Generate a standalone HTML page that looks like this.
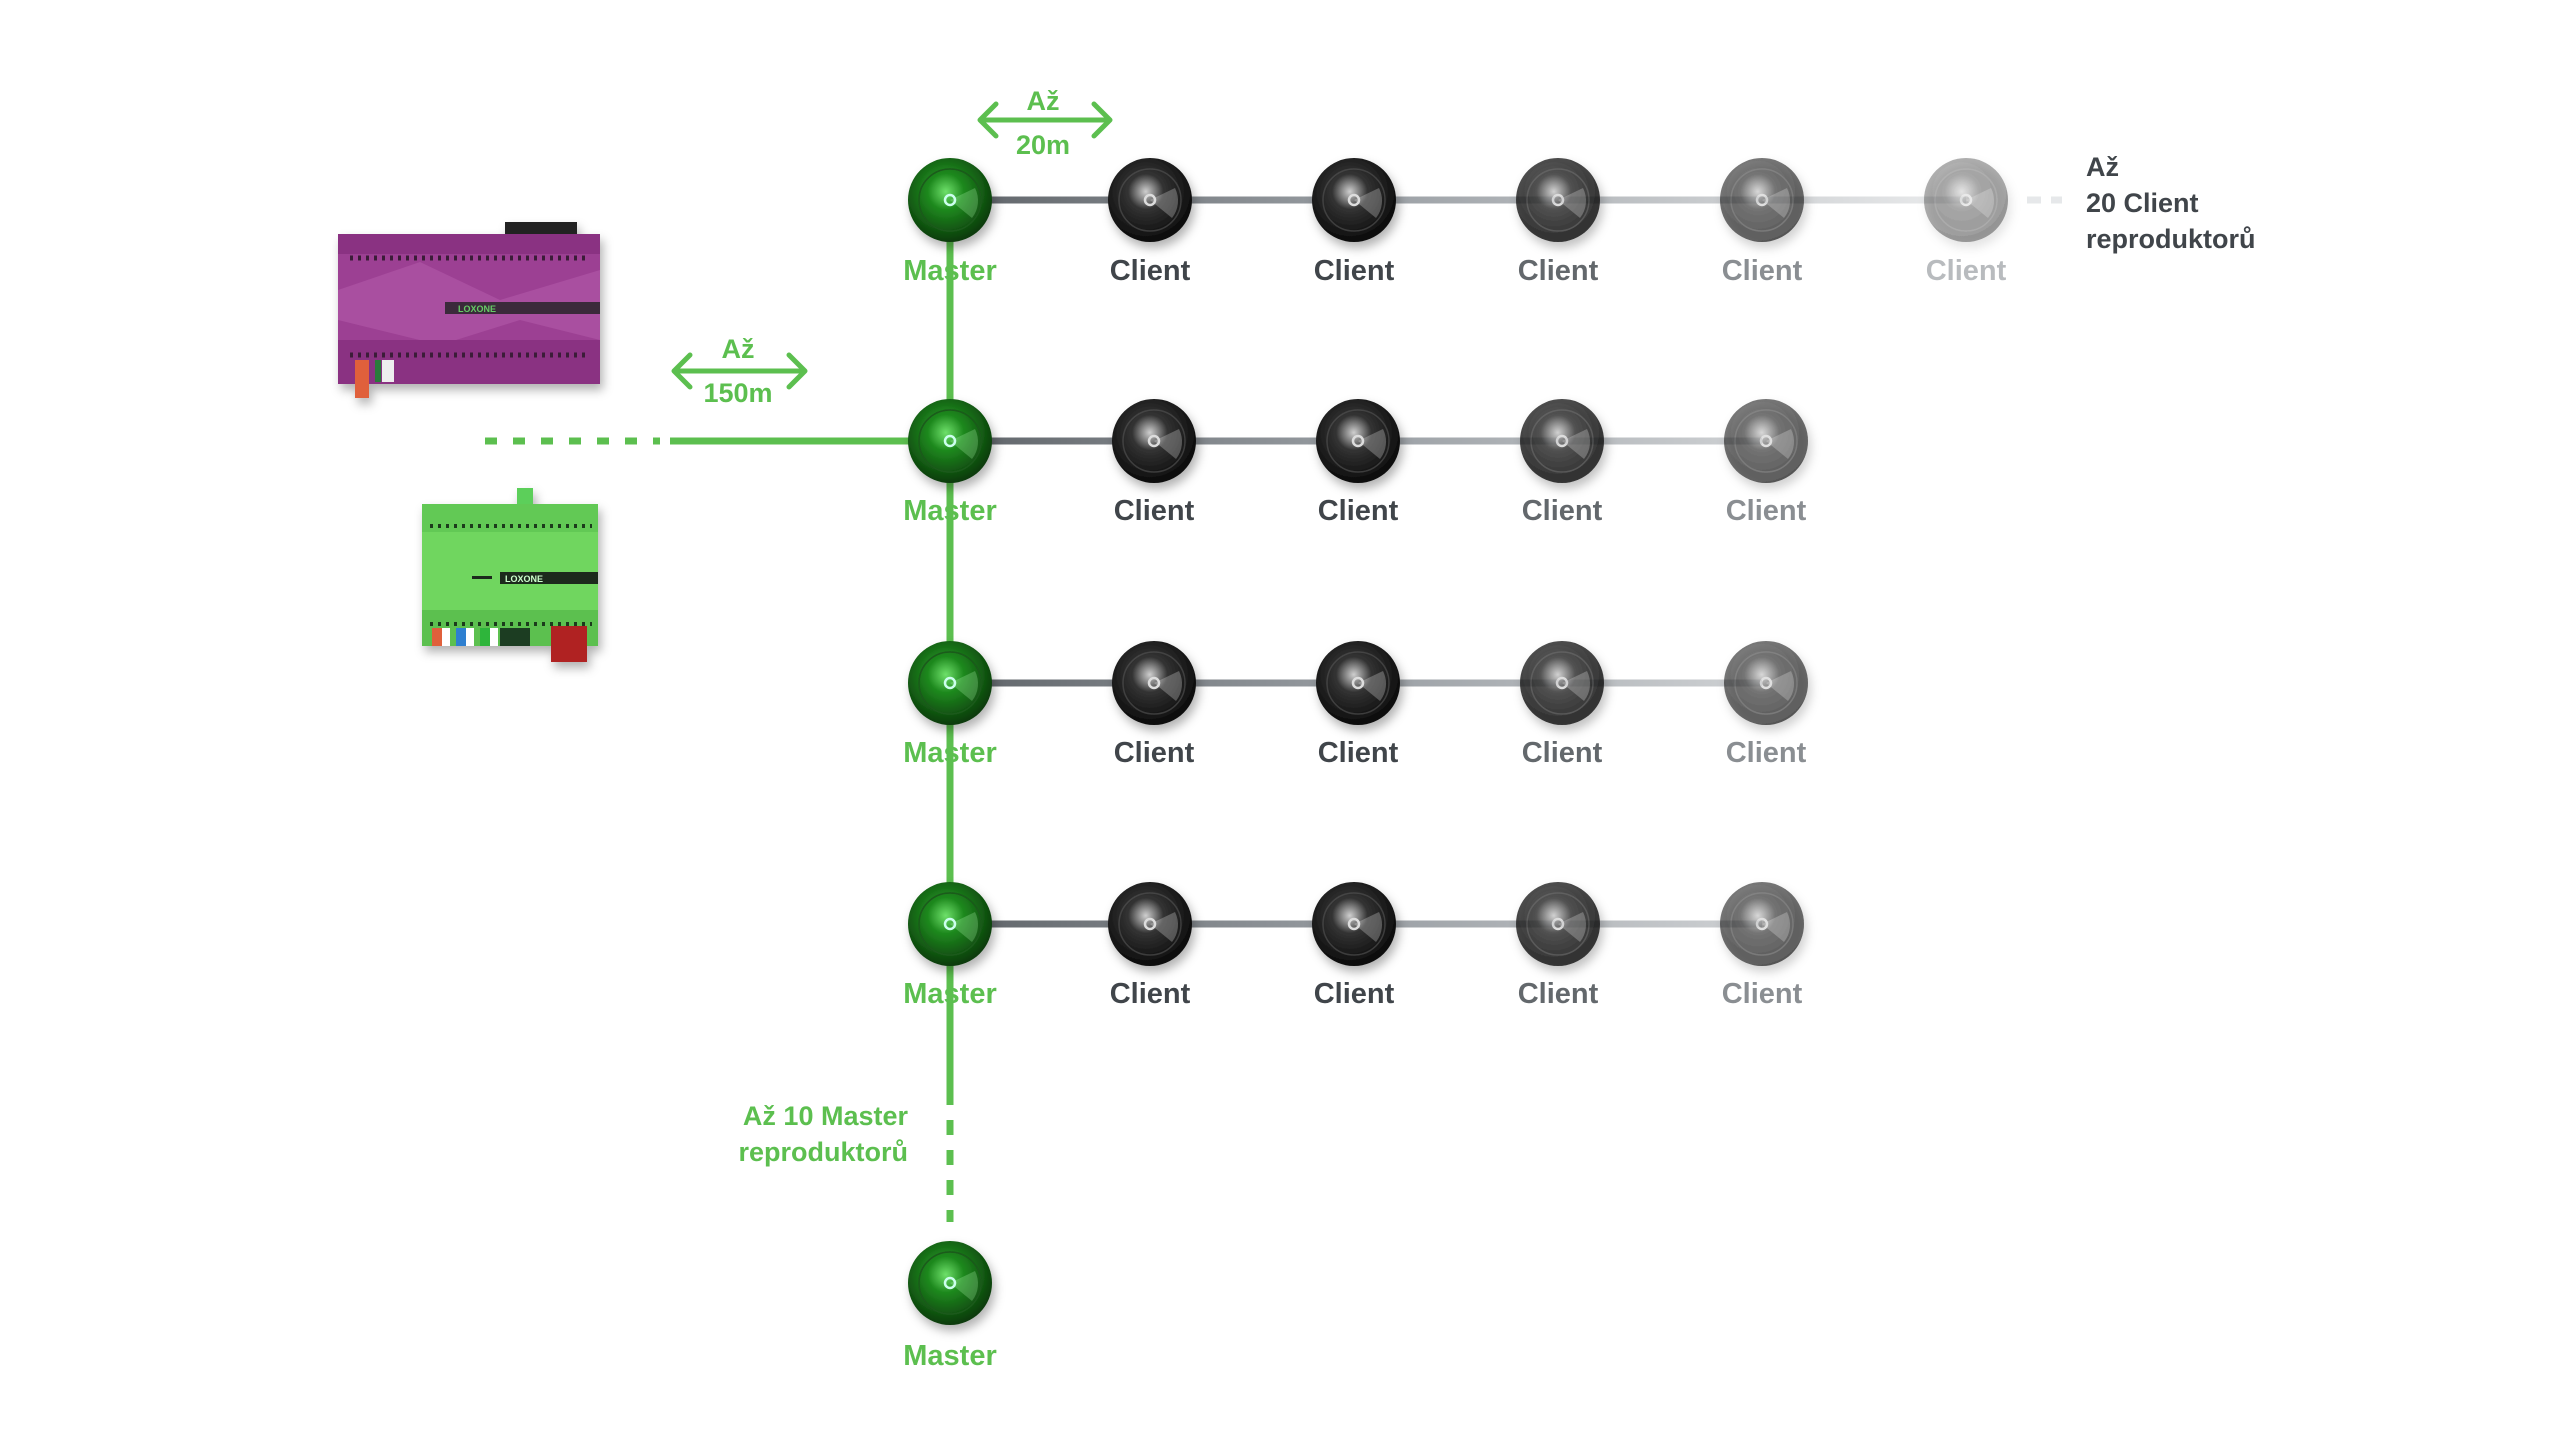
<!DOCTYPE html>
<html><head><meta charset="utf-8"><style>
html,body{margin:0;padding:0;background:#fff;}
svg{display:block}
text{font-family:"Liberation Sans",sans-serif;font-weight:bold;}
</style></head><body>
<svg width="2560" height="1440" viewBox="0 0 2560 1440" xmlns="http://www.w3.org/2000/svg">
<defs>
  <radialGradient id="gG" cx="0.45" cy="0.4" r="0.6">
    <stop offset="0" stop-color="#6ee06a"/><stop offset="0.35" stop-color="#1f8a1f"/><stop offset="1" stop-color="#0a3a0a"/>
  </radialGradient>
  <radialGradient id="gD" cx="0.45" cy="0.4" r="0.6">
    <stop offset="0" stop-color="#cfcfcf"/><stop offset="0.35" stop-color="#333"/><stop offset="1" stop-color="#0a0a0a"/>
  </radialGradient>
  <linearGradient id="fade" x1="950" x2="2000" gradientUnits="userSpaceOnUse">
    <stop offset="0" stop-color="#5f6469"/><stop offset="0.4" stop-color="#9a9fa4"/><stop offset="1" stop-color="#f0f1f2"/>
  </linearGradient>
  <filter id="sh" x="-30%" y="-30%" width="160%" height="160%"><feDropShadow dx="3" dy="6" stdDeviation="5" flood-opacity="0.3"/></filter>
  <g id="spk">
    <circle r="42" fill="url(#gD)"/>
    <circle r="31" fill="none" stroke="#555" stroke-width="1.5" opacity="0.6"/>
    <path d="M0,0 L25,-12 A28,28 0 0 1 22,18 Z" fill="#fff" opacity="0.25"/>
    <circle r="5" fill="none" stroke="#ddd" stroke-width="2.5"/>
  </g>
  <g id="mspk">
    <circle r="42" fill="url(#gG)"/>
    <circle r="31" fill="none" stroke="#1a5a1a" stroke-width="1.5"/>
    <path d="M0,0 L25,-12 A28,28 0 0 1 22,18 Z" fill="#bfb" opacity="0.25"/>
    <circle r="5" fill="none" stroke="#cfe" stroke-width="2.5"/>
  </g>
</defs>

<line x1="950" y1="200" x2="950" y2="1105" stroke="#5cbf4f" stroke-width="7"/>
<line x1="950" y1="1120" x2="950" y2="1222" stroke="#5cbf4f" stroke-width="7" stroke-dasharray="15,15"/>
<line x1="670" y1="441" x2="950" y2="441" stroke="#5cbf4f" stroke-width="7"/>
<line x1="485" y1="441" x2="660" y2="441" stroke="#5cbf4f" stroke-width="7" stroke-dasharray="12,16"/>

<g stroke="url(#fade)" stroke-width="7">
<line x1="950" y1="200" x2="1966" y2="200"/>
<line x1="950" y1="441" x2="1762" y2="441"/>
<line x1="950" y1="683" x2="1762" y2="683"/>
<line x1="950" y1="924" x2="1762" y2="924"/>
</g>
<line x1="2027" y1="200" x2="2062" y2="200" stroke="#e6e8ea" stroke-width="7" stroke-dasharray="14,10"/>

<g stroke="#5cbf4f" stroke-width="5" fill="none" stroke-linecap="round" stroke-linejoin="round">
<line x1="982" y1="120" x2="1108" y2="120"/><polyline points="996,104 980,120 996,136"/><polyline points="1094,104 1110,120 1094,136"/>
<line x1="676" y1="371" x2="803" y2="371"/><polyline points="690,355 674,371 690,387"/><polyline points="789,355 805,371 789,387"/>
</g>
<g fill="#5cbf4f" font-size="27" text-anchor="middle">
<text x="1043" y="110">Až</text><text x="1043" y="154">20m</text>
<text x="738" y="358">Až</text><text x="738" y="402">150m</text>
</g>

<g filter="url(#sh)">
<use href="#mspk" x="950" y="200"/><use href="#mspk" x="950" y="441"/><use href="#mspk" x="950" y="683"/><use href="#mspk" x="950" y="924"/><use href="#mspk" x="950" y="1283"/>
<use href="#spk" x="1150" y="200"/><use href="#spk" x="1354" y="200"/><use href="#spk" x="1558" y="200" opacity="0.8"/><use href="#spk" x="1762" y="200" opacity="0.6"/><use href="#spk" x="1966" y="200" opacity="0.35"/>
<use href="#spk" x="1154" y="441"/><use href="#spk" x="1358" y="441"/><use href="#spk" x="1562" y="441" opacity="0.8"/><use href="#spk" x="1766" y="441" opacity="0.6"/>
<use href="#spk" x="1154" y="683"/><use href="#spk" x="1358" y="683"/><use href="#spk" x="1562" y="683" opacity="0.8"/><use href="#spk" x="1766" y="683" opacity="0.6"/>
<use href="#spk" x="1150" y="924"/><use href="#spk" x="1354" y="924"/><use href="#spk" x="1558" y="924" opacity="0.8"/><use href="#spk" x="1762" y="924" opacity="0.6"/>
</g>

<g font-size="29" text-anchor="middle">
<g fill="#5cbf4f">
<text x="950" y="280">Master</text><text x="950" y="520">Master</text><text x="950" y="762">Master</text><text x="950" y="1003">Master</text><text x="950" y="1365">Master</text>
</g>
<text x="1150" y="280" fill="#40454a">Client</text><text x="1354" y="280" fill="#40454a">Client</text><text x="1558" y="280" fill="#63686c">Client</text><text x="1762" y="280" fill="#8a8e92">Client</text><text x="1966" y="280" fill="#b8bbbe">Client</text>
<text x="1154" y="520" fill="#40454a">Client</text><text x="1358" y="520" fill="#40454a">Client</text><text x="1562" y="520" fill="#63686c">Client</text><text x="1766" y="520" fill="#8a8e92">Client</text>
<text x="1154" y="762" fill="#40454a">Client</text><text x="1358" y="762" fill="#40454a">Client</text><text x="1562" y="762" fill="#63686c">Client</text><text x="1766" y="762" fill="#8a8e92">Client</text>
<text x="1150" y="1003" fill="#40454a">Client</text><text x="1354" y="1003" fill="#40454a">Client</text><text x="1558" y="1003" fill="#63686c">Client</text><text x="1762" y="1003" fill="#8a8e92">Client</text>
</g>
<g font-size="27" fill="#40454a">
<text x="2086" y="176">Až</text><text x="2086" y="212">20 Client</text><text x="2086" y="248">reproduktorů</text>
</g>
<g font-size="27" fill="#5cbf4f" text-anchor="end">
<text x="908" y="1125">Až 10 Master</text><text x="908" y="1161">reproduktorů</text>
</g>

<g filter="url(#sh)">
<rect x="505" y="222" width="72" height="14" fill="#222"/>
<rect x="338" y="234" width="262" height="150" rx="4" fill="#9c3f93"/>
<polygon points="338,290 420,262 500,300 600,270 600,340 520,320 440,345 338,320" fill="#b25aa8" opacity="0.6"/>
<rect x="338" y="234" width="262" height="20" fill="#8a3382"/>
<rect x="338" y="340" width="262" height="44" fill="#8a3382"/>
<line x1="350" y1="258" x2="590" y2="258" stroke="#3a1a38" stroke-width="5" stroke-dasharray="3,5"/>
<line x1="350" y1="355" x2="590" y2="355" stroke="#3a1a38" stroke-width="5" stroke-dasharray="3,5"/>
<rect x="445" y="302" width="155" height="12" fill="#3a2a3a"/>
<text x="458" y="312" font-size="9" fill="#6c6">LOXONE</text>
<rect x="355" y="360" width="14" height="38" fill="#e0603a"/>
<rect x="382" y="360" width="12" height="22" fill="#eee"/>
<rect x="375" y="360" width="6" height="22" fill="#2a7a3a"/>
</g>

<g filter="url(#sh)">
<rect x="517" y="488" width="16" height="18" fill="#5ccf5a"/>
<rect x="422" y="504" width="176" height="142" rx="4" fill="#6fd65f"/>
<rect x="422" y="504" width="176" height="28" fill="#62c955"/>
<rect x="422" y="610" width="176" height="36" fill="#5cc04f"/>
<line x1="430" y1="526" x2="592" y2="526" stroke="#1c3a1a" stroke-width="4" stroke-dasharray="3,5"/>
<line x1="430" y1="624" x2="592" y2="624" stroke="#1c3a1a" stroke-width="4" stroke-dasharray="3,5"/>
<rect x="500" y="572" width="98" height="12" fill="#1f2a1f"/>
<text x="505" y="582" font-size="9" fill="#cfc">LOXONE</text>
<rect x="472" y="576" width="20" height="3" fill="#1f2a1f"/>
<rect x="432" y="628" width="10" height="18" fill="#e0603a"/><rect x="442" y="628" width="8" height="18" fill="#fff"/>
<rect x="456" y="628" width="10" height="18" fill="#2d7fd0"/><rect x="466" y="628" width="8" height="18" fill="#fff"/>
<rect x="480" y="628" width="10" height="18" fill="#2fb53a"/><rect x="490" y="628" width="8" height="18" fill="#fff"/>
<rect x="500" y="628" width="30" height="18" fill="#1d3d22"/>
<rect x="551" y="626" width="36" height="36" fill="#b02020"/>
</g>
</svg>
</body></html>
